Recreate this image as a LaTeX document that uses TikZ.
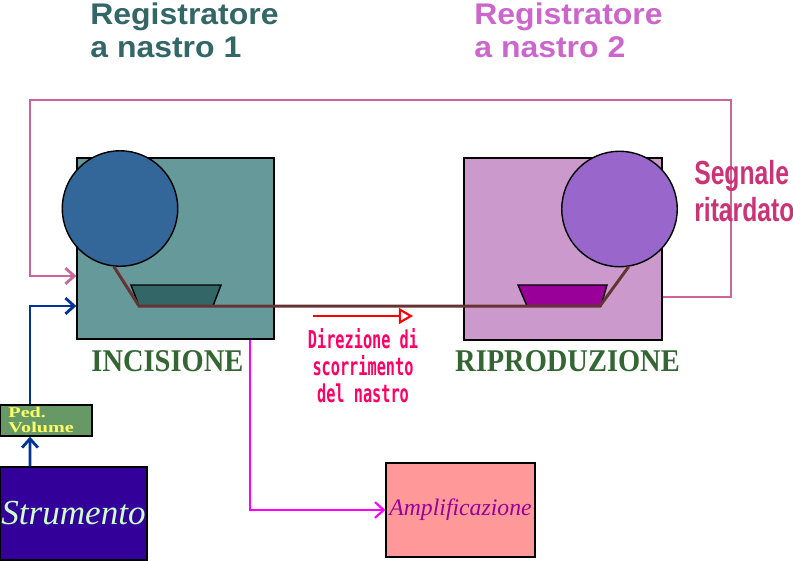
\documentclass[tikz,border=0pt]{standalone}
\usepackage{fontspec}
\setmainfont{Liberation Serif}
\setsansfont{Liberation Sans}
\newfontfamily\monobold{DejaVu Sans Mono}
\usepackage{xcolor}
\usetikzlibrary{arrows,arrows.meta,positioning,calc}
\tikzset{>={Straight Barb[length=5pt,width=9pt]}}

\definecolor{regone}{HTML}{336666}
\definecolor{regtwo}{HTML}{CC66CC}
\definecolor{looppink}{HTML}{CC6699}
\definecolor{boxone}{HTML}{669999}
\definecolor{reelone}{HTML}{336699}
\definecolor{headone}{HTML}{336666}
\definecolor{boxtwo}{HTML}{CC99CC}
\definecolor{reeltwo}{HTML}{9966CC}
\definecolor{headtwo}{HTML}{990099}
\definecolor{tapebrown}{HTML}{663333}
\definecolor{pedblue}{HTML}{003399}
\definecolor{pedgreen}{HTML}{669966}
\definecolor{pedyellow}{HTML}{FFFF66}
\definecolor{strviolet}{HTML}{330099}
\definecolor{strtext}{HTML}{CCFFCC}
\definecolor{ampmag}{HTML}{FF00FF}
\definecolor{ampfill}{HTML}{FF9999}
\definecolor{dirtext}{HTML}{FF0066}
\definecolor{labgreen}{HTML}{336633}
\definecolor{segpink}{HTML}{CC3377}

\begin{document}
\begin{tikzpicture}[x={(0.02cm,0)}, y={(0,-0.02cm)},
                    recbox/.style={draw=black, thick, inner sep=0pt},
                    reel/.style={circle, draw=black, thick, inner sep=0pt, minimum size=2.31cm},
                    rechead/.style={draw=black, thick},
                    tape/.style={tapebrown, line width=1.7pt},
                    title/.style={font=\sffamily\bfseries\fontsize{17}{18.7}\selectfont, align=left, inner sep=0pt, xscale=1.07},
                    boxlabel/.style={labgreen, font=\bfseries\fontsize{18}{20}\selectfont, inner sep=0pt, xscale=0.9},
                    feedback/.style={looppink, line width=1.6pt, ->},
                    inline/.style={pedblue, line width=1.6pt, ->},
                    outline/.style={ampmag, line width=1.2pt, ->},
                   ]

\useasboundingbox (0,0) rectangle (793,561);

% titles
\node[title, regone, anchor=base west] (reg1) at (90,57) {Registratore\\a nastro 1};
\node[title, regtwo, anchor=base west] (reg2) at (474,57) {Registratore\\a nastro 2};

% feedback loop
\coordinate (loopR) at (731,100);
\coordinate (loopL) at (30,100);

% recorders
\node[recbox, fill=boxone, minimum width=3.94cm, minimum height=3.62cm] (inc) at (175.5,248.5) {};
\node[recbox, fill=boxtwo, minimum width=3.96cm, minimum height=3.64cm] (rip) at (563,249) {};

\draw[feedback] ([yshift=-0.96cm]rip.east) -| (loopR) -- (loopL) |- ([yshift=-0.55cm]inc.west);

\node[reel, fill=reelone] (reel1) at (120,208.5) {};
\node[reel, fill=reeltwo] (reel2) at (619.5,209) {};

\draw[rechead, fill=headone] (131,285) -- (221,285) -- (213,306) -- (139,306) -- cycle;
\draw[rechead, fill=headtwo] (518,285) -- (607,285) -- (601,306) -- (527,306) -- cycle;

% tape
\coordinate (tp1) at (139,306);
\coordinate (tp2) at (600,306);
\draw[tape] (reel1.-96) -- (tp1) -- (tp2) -- (reel2.-81);

\node[boxlabel, below=0.22cm of inc, xshift=-0.18cm] (inclab) {INCISIONE};
\node[boxlabel, below=0.2cm of rip, xshift=0.1cm] (riplab) {RIPRODUZIONE};

% direction of tape
\coordinate (dirA) at (313,316);
\coordinate (dirB) at (413,316);
\draw[red, line width=1.2pt, -open triangle 60] (dirA) -- (dirB);
\node[dirtext, font=\monobold\bfseries\fontsize{14}{15.3}\selectfont, align=center, xscale=0.62, anchor=base] (dir) at (363,402) {Direzione di\\scorrimento\\del nastro};

% delayed signal
\node[segpink, font=\sffamily\bfseries\fontsize{19}{21}\selectfont, align=left, xscale=0.74, inner sep=0pt, anchor=base west] (seg) at (694,221) {Segnale\\ritardato};

% input chain
\node[recbox, fill=pedgreen, minimum width=1.84cm, minimum height=0.62cm] (ped) at (46,420.5) {};
\node[pedyellow, font=\bfseries\fontsize{8.5}{8.5}\selectfont, align=left, inner sep=0pt, xscale=1.35, anchor=base west] (pedlab) at (8,432) {Ped.\\Volume};
\node[recbox, fill=strviolet, minimum width=2.94cm, minimum height=1.86cm, text=strtext, font=\itshape\fontsize{20}{20}\selectfont] (str) at (73.5,513.5) {Strumento};

\draw[inline] ([xshift=-0.87cm]str.north) -- ([xshift=-0.32cm]ped.south);
\draw[inline] ([xshift=-0.32cm]ped.north) |- ([yshift=-1.15cm]inc.west);

% output
\node[recbox, fill=ampfill, minimum width=2.98cm, minimum height=1.88cm, text=headtwo, font=\itshape\fontsize{13.5}{13.5}\selectfont] (amp) at (460.5,510) {Amplificazione};
\draw[outline] ([xshift=1.49cm]inc.south) |- (amp.west);

\end{tikzpicture}
\end{document}
